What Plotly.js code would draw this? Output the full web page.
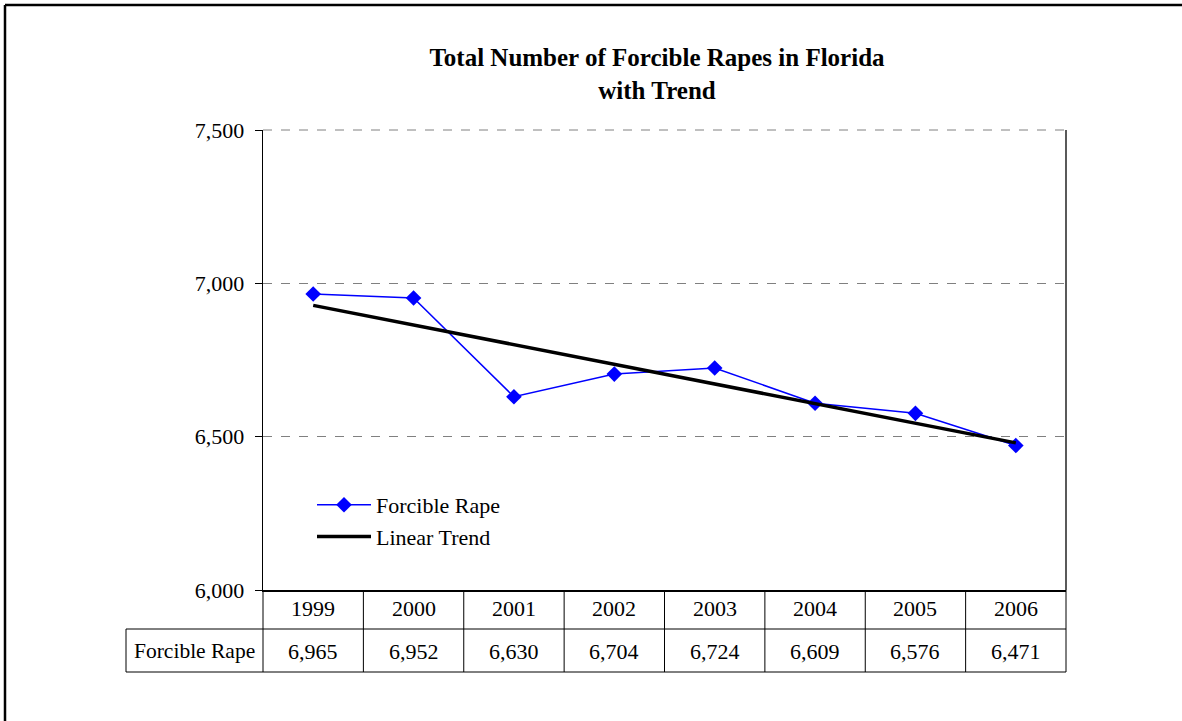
<!DOCTYPE html>
<html>
<head>
<meta charset="utf-8">
<script src="https://cdn.plot.ly/plotly-3.0.1.min.js"></script>
<style>html,body{margin:0;padding:0;background:#fff;}#chart{width:1182px;height:721px;}</style>
</head>
<body>
<div id="chart"></div>
<script>
var years = ['1999','2000','2001','2002','2003','2004','2005','2006'];
var rapes = [6965, 6952, 6630, 6704, 6724, 6609, 6576, 6471];
var seriesName = 'Forcible Rape';
var trendName = 'Linear Trend';
var yTicks = [6000, 6500, 7000, 7500];

// least-squares linear trend computed from the data
var n = rapes.length;
var xs = rapes.map(function(_, i){ return i; });
var mx = xs.reduce(function(a,b){return a+b;},0)/n;
var my = rapes.reduce(function(a,b){return a+b;},0)/n;
var sxy = 0, sxx = 0;
for (var i=0;i<n;i++){ sxy += (xs[i]-mx)*(rapes[i]-my); sxx += (xs[i]-mx)*(xs[i]-mx); }
var slope = sxy/sxx, icpt = my - slope*mx;
var trend = xs.map(function(x){ return icpt + slope*x; });

var FONT = 'Liberation Serif, Times New Roman, serif';

var traces = [
  {x: xs, y: rapes, name: seriesName, type: 'scatter', mode: 'lines+markers',
   line: {color: '#0000FF', width: 1.5},
   marker: {symbol: 'diamond', size: 12, color: '#0000FF'}},
  {x: xs, y: trend, name: trendName, type: 'scatter', mode: 'lines',
   line: {color: '#000000', width: 3.5}}
];

// layout geometry helpers (pixels -> paper)
var L = 263, R = 1066, T = 130, B = 590;
var W = R - L, H = B - T;
function px(x){ return (x - L)/W; }
function py(y){ return (B - y)/H; }

var shapes = [];
var ln = {color: '#000', width: 1};
// top dashed gridline at range maximum
shapes.push({type:'line', xref:'paper', yref:'paper', x0:0, x1:1, y0:1, y1:1, line:{color:'#808080', width:1, dash:'dash'}});
// right border of plot
shapes.push({type:'line', xref:'paper', yref:'paper', x0:1, x1:1, y0:0, y1:1, line:{color:'#000', width:1.3}});
// table verticals (category boundaries)
for (var k=0;k<=n;k++){
  shapes.push({type:'line', xref:'paper', yref:'paper', x0:k/n, x1:k/n, y0:py(672), y1:0, line:ln});
}
// label cell left edge
shapes.push({type:'line', xref:'paper', yref:'paper', x0:px(126), x1:px(126), y0:py(672), y1:py(629), line:ln});
// horizontals
shapes.push({type:'line', xref:'paper', yref:'paper', x0:px(126), x1:1, y0:py(629), y1:py(629), line:ln});
shapes.push({type:'line', xref:'paper', yref:'paper', x0:px(126), x1:1, y0:py(672), y1:py(672), line:ln});
// outer frame
shapes.push({type:'line', xref:'paper', yref:'paper', x0:px(5), x1:px(1190), y0:py(5), y1:py(5), line:{color:'#000', width:2.5}});
shapes.push({type:'line', xref:'paper', yref:'paper', x0:px(5), x1:px(5), y0:py(5), y1:py(730), line:{color:'#000', width:2.5}});

var annotations = [];
years.forEach(function(yr, i){
  annotations.push({x: i, xref:'x', y: py(608), yref:'paper', text: yr, showarrow:false,
    font:{family:FONT, size:22, color:'#000'}, xanchor:'center', yanchor:'middle'});
  annotations.push({x: i, xref:'x', y: py(651), yref:'paper', text: rapes[i].toLocaleString('en-US'), showarrow:false,
    font:{family:FONT, size:22, color:'#000'}, xanchor:'center', yanchor:'middle'});
});
annotations.push({x: px(194), xref:'paper', y: py(651), yref:'paper', text: seriesName, showarrow:false,
  font:{family:FONT, size:21.5, color:'#000'}, xanchor:'center', yanchor:'middle'});

var layout = {
  width: 1182, height: 721,
  margin: {l: L, r: 1182 - R, t: T, b: 721 - B, pad: 0},
  paper_bgcolor: '#fff', plot_bgcolor: '#fff',
  font: {family: FONT, color: '#000'},
  title: {text: '<b>Total Number of Forcible Rapes in Florida</b><br><b>with Trend</b>',
    x: px(657), xref: 'paper', xanchor: 'center', y: 1 - 66/721, yref: 'container', yanchor: 'middle',
    font: {family: FONT, size: 25, color: '#000'}},
  xaxis: {range: [-0.5, n - 0.5], tickvals: xs, ticktext: years, showticklabels: false,
    showgrid: false, zeroline: false, showline: true, linecolor: '#000', linewidth: 2, ticks: '', fixedrange: true},
  yaxis: {range: [6000, 7500], tickvals: yTicks, tickformat: ',d', showgrid: true, gridcolor: '#808080',
    griddash: 'dash', gridwidth: 1, zeroline: false, showline: true, linecolor: '#000', linewidth: 1.3,
    ticks: 'outside', ticklen: 7, tickcolor: '#000', ticklabelstandoff: 6,
    tickfont: {family: FONT, size: 22, color: '#000'}, fixedrange: true},
  showlegend: true,
  legend: {x: px(312), y: py(484), xanchor: 'left', yanchor: 'top', bgcolor: 'rgba(0,0,0,0)',
    font: {family: FONT, size: 22, color: '#000'}, itemwidth: 54, tracegroupgap: 0},
  shapes: shapes,
  annotations: annotations
};

Plotly.newPlot('chart', traces, layout, {displayModeBar: false, staticPlot: true});
</script>
</body>
</html>
